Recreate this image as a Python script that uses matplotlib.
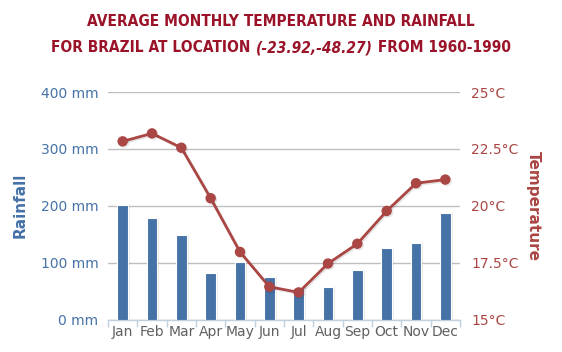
import matplotlib
matplotlib.use("Agg")
import matplotlib.pyplot as plt
import matplotlib.patheffects as pe
import numpy as np

months = ["Jan", "Feb", "Mar", "Apr", "May", "Jun", "Jul", "Aug", "Sep", "Oct", "Nov", "Dec"]
rainfall = [201, 178, 149, 81, 101, 74, 56, 57, 87, 125, 134, 187]
temperature = [22.83, 23.18, 22.55, 20.33, 17.97, 16.44, 16.19, 17.46, 18.33, 19.77, 20.99, 21.15]
rain_ticks = [0, 100, 200, 300, 400]
temp_ticks = [15, 17.5, 20, 22.5, 25]

BLUE = "#4572A7"
RED = "#AA4643"
TITLE = "#9A1328"

W, H = 562, 352
fig = plt.figure(figsize=(W / 100, H / 100), dpi=100)
left, right, top, bottom = 108, 460, 92, 319.5
ax = fig.add_axes([left / W, 1 - bottom / H, (right - left) / W, (bottom - top) / H])
ax2 = ax.twinx()

x = np.arange(len(months))
# shadow for bars
ax.bar(x + 0.06, rainfall, width=0.38, color="#000000", alpha=0.08, zorder=2, linewidth=0)
ax.bar(x, rainfall, width=0.36, color=BLUE, edgecolor="white", linewidth=0.8, zorder=3)

ax.set_xlim(-0.5, 11.5)
ax.set_ylim(0, 400)
ax.set_yticks(rain_ticks)
ax.set_yticklabels([f"{v} mm" for v in rain_ticks], color=BLUE, fontsize=10)
ax.grid(axis="y", color="#C0C0C0", linewidth=1, zorder=0)
ax.set_axisbelow(True)
ax.set_xticks(x)
ax.set_xticklabels(months, color="#606060", fontsize=10)
ax.set_xticks(np.arange(-0.5, 12, 1), minor=True)
ax.tick_params(axis="x", which="major", length=0, pad=4)
ax.tick_params(axis="x", which="minor", length=5, color="#C0D0E0", width=1)
ax.tick_params(axis="y", length=0, pad=7)
for s in ["top", "right", "left"]:
    ax.spines[s].set_visible(False)
ax.spines["bottom"].set_color("#C0D0E0")
ax.spines["bottom"].set_linewidth(1)
ax.set_ylabel("Rainfall", color=BLUE, fontsize=11, fontweight="bold", labelpad=9)

ax2.plot(x, temperature, color=RED, linewidth=2, marker="o", markersize=6.5, zorder=5,
         path_effects=[pe.SimpleLineShadow(offset=(1, -1), alpha=0.1), pe.Normal()])
ax2.set_ylim(15, 25)
ax2.set_yticks(temp_ticks)
ax2.set_yticklabels([f"{v:g}°C" for v in temp_ticks], color=RED, fontsize=10)
ax2.tick_params(axis="y", length=0, pad=8)
for s in ["top", "right", "left", "bottom"]:
    ax2.spines[s].set_visible(False)
ax2.set_ylabel("Temperature", color=RED, fontsize=11, fontweight="bold", rotation=270, labelpad=16)

tfont = dict(family="DejaVu Sans", fontstretch="condensed", fontweight="bold", color=TITLE)
fig.canvas.draw()
renderer = fig.canvas.get_renderer()

t1 = fig.text(0.5, 1 - 22 / H, "AVERAGE MONTHLY TEMPERATURE AND RAINFALL", ha="center", va="center",
              fontsize=14, **tfont)
w1 = t1.get_window_extent(renderer).width
t1.set_fontsize(14 * 389 / w1)

line2_parts = [("FOR BRAZIL AT LOCATION ", "normal"), ("(-23.92,-48.27)", "italic"), (" FROM 1960-1990", "normal")]
texts = [fig.text(0, 1 - 48 / H, s, ha="left", va="center", style=st, fontsize=14, **tfont)
         for s, st in line2_parts]
total = sum(t.get_window_extent(renderer).width for t in texts)
fs2 = 14 * 461 / total
for t in texts:
    t.set_fontsize(fs2)
widths = [t.get_window_extent(renderer).width for t in texts]
xpos = (W - sum(widths)) / 2
for t, w in zip(texts, widths):
    t.set_x(xpos / W)
    xpos += w

fig.savefig("out.png", dpi=100)
